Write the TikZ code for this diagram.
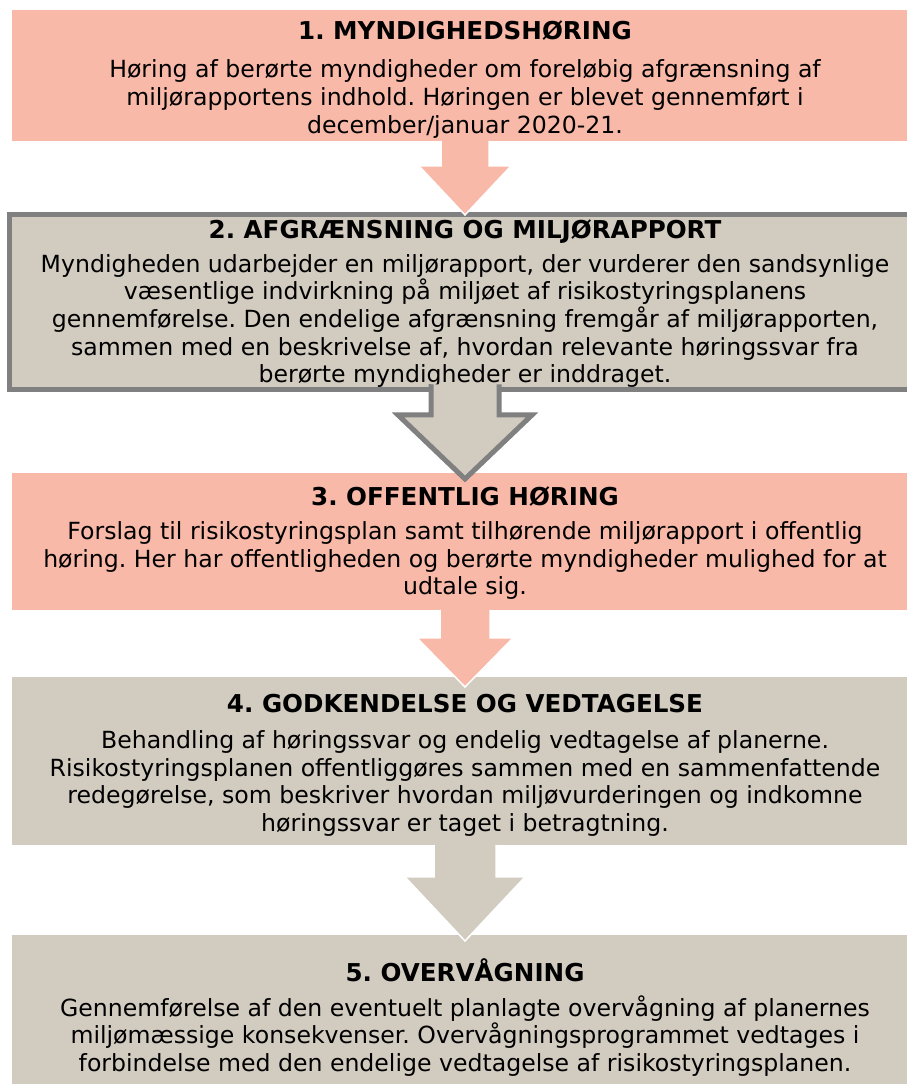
\documentclass[tikz,border=0pt]{standalone}
\usepackage{fontspec}
\setmainfont{DejaVu Sans}
\usetikzlibrary{calc}
\frenchspacing

\definecolor{salmon}{RGB}{249,185,169}
\definecolor{stone}{RGB}{210,203,192}
\definecolor{edgegrey}{RGB}{128,128,128}

\tikzset{
  stepbox/.style={rectangle, minimum width=906pt, inner sep=0pt, outer sep=0pt},
  redbox/.style={stepbox, fill=salmon},
  greybox/.style={stepbox, fill=stone},
  boxtitle/.style={font=\fontsize{24.6}{28}\selectfont\bfseries, inner sep=0pt},
  boxtext/.style={font=\fontsize{23.6}{27.6}\selectfont, align=center, inner sep=0pt},
  blockarrow/.style={line join=miter}
}

\begin{document}
\begin{tikzpicture}[x=1pt,y=1pt]
  \useasboundingbox (0,0) rectangle (907,1084);
  \clip (0,0) rectangle (907,1084);
  \fill[white] (0,0) rectangle (907,1084);

  % the five steps
  \node[redbox, minimum height=131pt] (b1) at (465,1008.5) {};
  \node[greybox, draw=edgegrey, line width=5pt, minimum width=911pt, minimum height=175pt] (b2) at (465,782) {};
  \node[redbox, minimum height=137pt] (b3) at (465,542.5) {};
  \node[greybox, minimum height=168pt] (b4) at (465,323) {};
  \node[greybox, minimum height=156pt] (b5) at (465,71) {};

  \node[boxtitle] (t1) at (465,1053) {1. MYNDIGHEDSHØRING};
  \node[boxtext] (x1) at (465,985) {Høring af berørte myndigheder om foreløbig afgrænsning af\\
    miljørapportens indhold. Høringen er blevet gennemført i\\
    december/januar 2020-21.};

  \node[boxtitle] (t2) at (465,852) {2. AFGRÆNSNING OG MILJØRAPPORT};
  \node[boxtext] (x2) at (465,763) {Myndigheden udarbejder en miljørapport, der vurderer den sandsynlige\\
    væsentlige indvirkning på miljøet af risikostyringsplanens\\
    gennemførelse. Den endelige afgrænsning fremgår af miljørapporten,\\
    sammen med en beskrivelse af, hvordan relevante høringssvar fra\\
    berørte myndigheder er inddraget.};

  \node[boxtitle] (t3) at (465,587) {3. OFFENTLIG HØRING};
  \node[boxtext] (x3) at (465,523.5) {Forslag til risikostyringsplan samt tilhørende miljørapport i offentlig\\
    høring. Her har offentligheden og berørte myndigheder mulighed for at\\
    udtale sig.};

  \node[boxtitle] (t4) at (465,380) {4. GODKENDELSE OG VEDTAGELSE};
  \node[boxtext] (x4) at (465,300.5) {Behandling af høringssvar og endelig vedtagelse af planerne.\\
    Risikostyringsplanen offentliggøres sammen med en sammenfattende\\
    redegørelse, som beskriver hvordan miljøvurderingen og indkomne\\
    høringssvar er taget i betragtning.};

  \node[boxtitle] (t5) at (465,114) {5. OVERVÅGNING};
  \node[boxtext] (x5) at (465,48) {Gennemførelse af den eventuelt planlagte overvågning af planernes\\
    miljømæssige konsekvenser. Overvågningsprogrammet vedtages i\\
    forbindelse med den endelige vedtagelse af risikostyringsplanen.};

  % arrows between the steps
  \path[blockarrow, fill=salmon, draw=white, line width=1.5pt]
    ($(b1.south)+(-24,0)$) -- ++(0,-25) -- ++(-22,0) -- ($(b1.south)+(0,-74)$)
    -- ($(b1.south)+(46,-25)$) -- ++(-22,0) -- ++(0,25);
  \path[blockarrow, fill=stone, draw=edgegrey, line width=5pt]
    ($(b2.south)+(-34,5)$) -- ++(0,-30.5) -- ++(-33,0) -- ($(b2.south)+(0,-89.5)$)
    -- ($(b2.south)+(67,-25.5)$) -- ++(-33,0) -- ++(0,30.5);
  \path[blockarrow, fill=salmon, draw=white, line width=1.5pt]
    ($(b3.south)+(-25,0)$) -- ++(0,-28) -- ++(-23,0) -- ($(b3.south)+(0,-77)$)
    -- ($(b3.south)+(48,-28)$) -- ++(-23,0) -- ++(0,28);
  \path[blockarrow, fill=stone, draw=white, line width=1.5pt]
    ($(b4.south)+(-31,0)$) -- ++(0,-32) -- ++(-29,0) -- ($(b4.south)+(0,-96)$)
    -- ($(b4.south)+(60,-32)$) -- ++(-29,0) -- ++(0,32);
\end{tikzpicture}
\end{document}
